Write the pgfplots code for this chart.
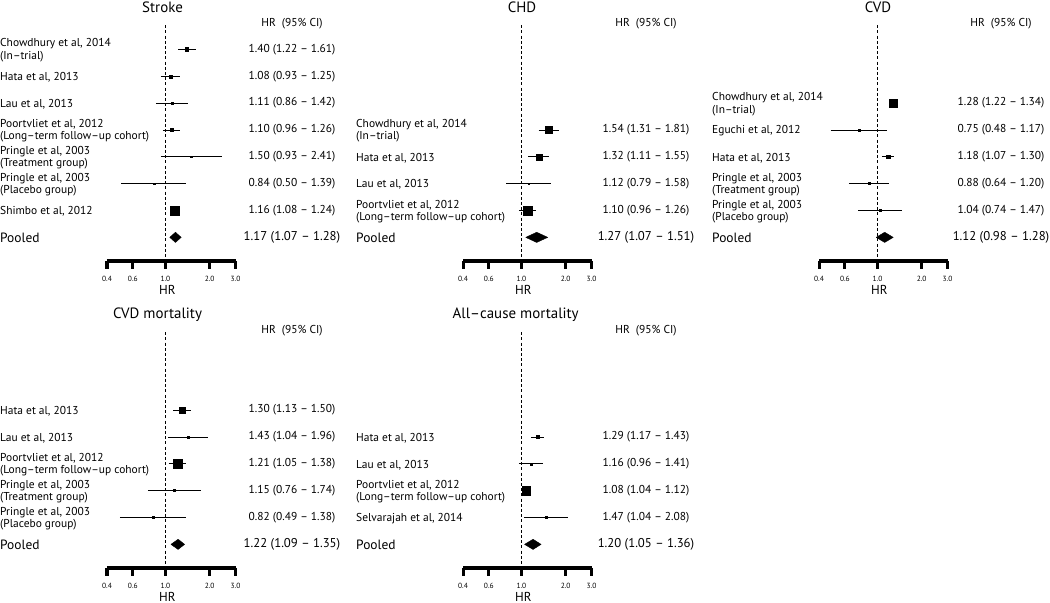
\documentclass[border=0pt]{standalone}
\usepackage{fontspec}
\setmainfont{PT Sans}
\usepackage{pgfplots}
\pgfplotsset{compat=1.18}
\usepackage{pgfplotstable}

% r = row (0 = top), hr, lower, upper, s = half size of box (bp)
\pgfplotstableread{
r hr lo hi s
0 1.40 1.22 1.61 1.7
1 1.08 0.93 1.25 1.5
2 1.11 0.86 1.42 1.0
3 1.10 0.96 1.26 1.5
4 1.50 0.93 2.41 0.8
5 0.84 0.50 1.39 0.8
6 1.16 1.08 1.24 4.6
}\tStroke
\pgfplotstableread{
r hr lo hi s
3 1.54 1.31 1.81 3.3
4 1.32 1.11 1.55 3.0
5 1.12 0.79 1.58 0.8
6 1.10 0.96 1.26 4.3
}\tCHD
\pgfplotstableread{
r hr lo hi s
2 1.28 1.22 1.34 4.3
3 0.75 0.48 1.17 0.8
4 1.18 1.07 1.30 1.7
5 0.88 0.64 1.20 1.0
6 1.04 0.74 1.47 1.0
}\tCVD
\pgfplotstableread{
r hr lo hi s
2 1.30 1.13 1.50 3.3
3 1.43 1.04 1.96 1.2
4 1.21 1.05 1.38 4.3
5 1.15 0.76 1.74 1.0
6 0.82 0.49 1.38 1.0
}\tCVDm
\pgfplotstableread{
r hr lo hi s
3 1.29 1.17 1.43 1.5
4 1.16 0.96 1.41 1.0
5 1.08 1.04 1.12 4.3
6 1.47 1.04 2.08 1.0
}\tAll

\newcommand\lf{\fontsize{11.5}{12.5}\selectfont}
\newcommand\pf{\fontsize{13.5}{14}\selectfont}
\newcommand\pvf{\fontsize{12.8}{13}\selectfont}
\newcommand\tf{\fontsize{15}{16}\selectfont}
\newcommand\tkf{\fontsize{7.5}{8}\selectfont}

\newcommand\lab[2]{\node[anchor=west,align=left,font=\lf,xshift=-107bp,yshift=-1bp,inner sep=0pt] at (axis cs:0.4,-#1) {#2};}
\newcommand\val[2]{\node[font=\lf,xshift=\vx,inner sep=0pt] at (axis cs:0.4,-#1) {#2};}
\newcommand\plab{\node[anchor=west,font=\pf,xshift=-107bp,inner sep=0pt] at (axis cs:0.4,-7) {Pooled};}
\newcommand\pval[1]{\node[font=\pvf,xshift=\vx,inner sep=0pt] at (axis cs:0.4,-7) {#1};}
\newcommand\hdr{\node[font=\lf,xshift=\vx,inner sep=0pt] at (axis cs:0.4,0.97) {HR\ \ (95\% CI)};}
\newcommand\ttl[2]{\node[font=\tf,xshift=#1,inner sep=0pt] at (axis cs:0.4,1.56) {#2};}
\newcommand\hrlab{\node[font=\fontsize{13}{13}\selectfont,yshift=-28.5bp,inner sep=0pt] at (axis cs:1.03,-7.88) {HR};}
% bold HR axis: line and ticks drawn as plots
\newcommand\hraxis{%
\addplot[black, line width=3.2bp, mark=none] coordinates {(0.4,-7.88) (3,-7.88)};
\addplot[black, line width=3bp, mark=none, unbounded coords=jump] coordinates {
 (0.4,-7.88) (0.4,-8.18) (nan,nan) (0.6,-7.88) (0.6,-8.18) (nan,nan)
 (1,-7.88) (1,-8.18) (nan,nan) (2,-7.88) (2,-8.18) (nan,nan) (3,-7.88) (3,-8.18)};
}

\pgfplotsset{
studyboxes/.style={scatter, only marks, mark=square*,
  scatter/use mapped color={draw=black,fill=black},
  visualization depends on={\thisrow{s}\as\msz},
  scatter/@pre marker code/.append style={/tikz/mark size=\msz}},
cisegs/.style={black, line width=0.75bp, unbounded coords=jump, mark=none},
refline/.style={black, line width=0.85bp, dash pattern=on 3bp off 2.2bp, mark=none},
pooleddia/.style={fill=black, draw=black, line width=0.4bp, mark=none}
}

\begin{document}
\begin{tikzpicture}[x=1bp,y=1bp]
\useasboundingbox (0,0) rectangle (1050,603);

% ---------------- Stroke
\def\vx{185bp}
\begin{axis}[xmode=log, xmin=0.4, xmax=3, ymin=-7.88, ymax=0.9,
  scale only axis, width=128.5bp, height=235.8bp,
  anchor=south west, at={(107bp,342bp)}, clip=false,
  axis x line=bottom, axis y line=none,
  axis line style={draw=none},
  xtick={0.4,0.6,1,2,3}, xticklabels={0.4,0.6,1.0,2.0,3.0},
  minor xtick={}, tick align=outside, major tick length=8bp,
  every tick/.style={draw=none},
  xticklabel style={font=\tkf, yshift=-4bp}]
\addplot[refline] coordinates {(1,0.9) (1,-7.88)};
\hraxis
\addplot[cisegs] coordinates {(1.22,0) (1.61,0) (nan,nan) (0.93,-1) (1.25,-1) (nan,nan)
 (0.86,-2) (1.42,-2) (nan,nan) (0.96,-3) (1.26,-3) (nan,nan) (0.93,-4) (2.41,-4) (nan,nan)
 (0.50,-5) (1.39,-5) (nan,nan) (1.08,-6) (1.24,-6)};
\addplot[studyboxes] table[x=hr, y expr=-\thisrow{r}] {\tStroke};
\addplot[pooleddia] coordinates {(1.07,-7) (1.17,-6.81) (1.28,-7) (1.17,-7.19) (1.07,-7)};
\ttl{55.5bp}{Stroke}
\hdr
\lab{0}{Chowdhury et al, 2014\\(In–trial)}
\lab{1}{Hata et al, 2013}
\lab{2}{Lau et al, 2013}
\lab{3}{Poortvliet et al, 2012\\(Long–term follow–up cohort)}
\lab{4}{Pringle et al, 2003\\(Treatment group)}
\lab{5}{Pringle et al, 2003\\(Placebo group)}
\lab{6}{Shimbo et al, 2012}
\plab
\val{0}{1.40 (1.22 – 1.61)}
\val{1}{1.08 (0.93 – 1.25)}
\val{2}{1.11 (0.86 – 1.42)}
\val{3}{1.10 (0.96 – 1.26)}
\val{4}{1.50 (0.93 – 2.41)}
\val{5}{0.84 (0.50 – 1.39)}
\val{6}{1.16 (1.08 – 1.24)}
\pval{1.17 (1.07 – 1.28)}
\hrlab
\end{axis}

% ---------------- CHD
\def\vx{183bp}
\begin{axis}[xmode=log, xmin=0.4, xmax=3, ymin=-7.88, ymax=0.9,
  scale only axis, width=128.5bp, height=235.8bp,
  anchor=south west, at={(463bp,342bp)}, clip=false,
  axis x line=bottom, axis y line=none,
  axis line style={draw=none},
  xtick={0.4,0.6,1,2,3}, xticklabels={0.4,0.6,1.0,2.0,3.0},
  minor xtick={}, tick align=outside, major tick length=8bp,
  every tick/.style={draw=none},
  xticklabel style={font=\tkf, yshift=-4bp}]
\addplot[refline] coordinates {(1,0.9) (1,-7.88)};
\hraxis
\addplot[cisegs] coordinates {(1.31,-3) (1.81,-3) (nan,nan) (1.11,-4) (1.55,-4) (nan,nan)
 (0.79,-5) (1.58,-5) (nan,nan) (0.96,-6) (1.26,-6)};
\addplot[studyboxes] table[x=hr, y expr=-\thisrow{r}] {\tCHD};
\addplot[pooleddia] coordinates {(1.07,-7) (1.27,-6.81) (1.51,-7) (1.27,-7.19) (1.07,-7)};
\ttl{59bp}{CHD}
\hdr
\lab{3}{Chowdhury et al, 2014\\(In–trial)}
\lab{4}{Hata et al, 2013}
\lab{5}{Lau et al, 2013}
\lab{6}{Poortvliet et al, 2012\\(Long–term follow–up cohort)}
\plab
\val{3}{1.54 (1.31 – 1.81)}
\val{4}{1.32 (1.11 – 1.55)}
\val{5}{1.12 (0.79 – 1.58)}
\val{6}{1.10 (0.96 – 1.26)}
\pval{1.27 (1.07 – 1.51)}
\hrlab
\end{axis}

% ---------------- CVD
\def\vx{182bp}
\begin{axis}[xmode=log, xmin=0.4, xmax=3, ymin=-7.88, ymax=0.9,
  scale only axis, width=128.5bp, height=235.8bp,
  anchor=south west, at={(819bp,342bp)}, clip=false,
  axis x line=bottom, axis y line=none,
  axis line style={draw=none},
  xtick={0.4,0.6,1,2,3}, xticklabels={0.4,0.6,1.0,2.0,3.0},
  minor xtick={}, tick align=outside, major tick length=8bp,
  every tick/.style={draw=none},
  xticklabel style={font=\tkf, yshift=-4bp}]
\addplot[refline] coordinates {(1,0.9) (1,-7.88)};
\hraxis
\addplot[cisegs] coordinates {(1.22,-2) (1.34,-2) (nan,nan) (0.48,-3) (1.17,-3) (nan,nan)
 (1.07,-4) (1.30,-4) (nan,nan) (0.64,-5) (1.20,-5) (nan,nan) (0.74,-6) (1.47,-6)};
\addplot[studyboxes] table[x=hr, y expr=-\thisrow{r}] {\tCVD};
\addplot[pooleddia] coordinates {(0.98,-7) (1.12,-6.81) (1.28,-7) (1.12,-7.19) (0.98,-7)};
\ttl{59bp}{CVD}
\hdr
\lab{2}{Chowdhury et al, 2014\\(In–trial)}
\lab{3}{Eguchi et al, 2012}
\lab{4}{Hata et al, 2013}
\lab{5}{Pringle et al, 2003\\(Treatment group)}
\lab{6}{Pringle et al, 2003\\(Placebo group)}
\plab
\val{2}{1.28 (1.22 – 1.34)}
\val{3}{0.75 (0.48 – 1.17)}
\val{4}{1.18 (1.07 – 1.30)}
\val{5}{0.88 (0.64 – 1.20)}
\val{6}{1.04 (0.74 – 1.47)}
\pval{1.12 (0.98 – 1.28)}
\hrlab
\end{axis}

% ---------------- CVD mortality
\def\vx{185bp}
\begin{axis}[xmode=log, xmin=0.4, xmax=3, ymin=-7.88, ymax=0.9,
  scale only axis, width=128.5bp, height=235.8bp,
  anchor=south west, at={(107bp,35bp)}, clip=false,
  axis x line=bottom, axis y line=none,
  axis line style={draw=none},
  xtick={0.4,0.6,1,2,3}, xticklabels={0.4,0.6,1.0,2.0,3.0},
  minor xtick={}, tick align=outside, major tick length=8bp,
  every tick/.style={draw=none},
  xticklabel style={font=\tkf, yshift=-4bp}]
\addplot[refline] coordinates {(1,0.9) (1,-7.88)};
\hraxis
\addplot[cisegs] coordinates {(1.13,-2) (1.50,-2) (nan,nan) (1.04,-3) (1.96,-3) (nan,nan)
 (1.05,-4) (1.38,-4) (nan,nan) (0.76,-5) (1.74,-5) (nan,nan) (0.49,-6) (1.38,-6)};
\addplot[studyboxes] table[x=hr, y expr=-\thisrow{r}] {\tCVDm};
\addplot[pooleddia] coordinates {(1.09,-7) (1.22,-6.81) (1.35,-7) (1.22,-7.19) (1.09,-7)};
\ttl{50.5bp}{CVD mortality}
\hdr
\lab{2}{Hata et al, 2013}
\lab{3}{Lau et al, 2013}
\lab{4}{Poortvliet et al, 2012\\(Long–term follow–up cohort)}
\lab{5}{Pringle et al, 2003\\(Treatment group)}
\lab{6}{Pringle et al, 2003\\(Placebo group)}
\plab
\val{2}{1.30 (1.13 – 1.50)}
\val{3}{1.43 (1.04 – 1.96)}
\val{4}{1.21 (1.05 – 1.38)}
\val{5}{1.15 (0.76 – 1.74)}
\val{6}{0.82 (0.49 – 1.38)}
\pval{1.22 (1.09 – 1.35)}
\hrlab
\end{axis}

% ---------------- All-cause mortality
\def\vx{183bp}
\begin{axis}[xmode=log, xmin=0.4, xmax=3, ymin=-7.88, ymax=0.9,
  scale only axis, width=128.5bp, height=235.8bp,
  anchor=south west, at={(463bp,35bp)}, clip=false,
  axis x line=bottom, axis y line=none,
  axis line style={draw=none},
  xtick={0.4,0.6,1,2,3}, xticklabels={0.4,0.6,1.0,2.0,3.0},
  minor xtick={}, tick align=outside, major tick length=8bp,
  every tick/.style={draw=none},
  xticklabel style={font=\tkf, yshift=-4bp}]
\addplot[refline] coordinates {(1,0.9) (1,-7.88)};
\hraxis
\addplot[cisegs] coordinates {(1.17,-3) (1.43,-3) (nan,nan) (0.96,-4) (1.41,-4) (nan,nan)
 (1.04,-5) (1.12,-5) (nan,nan) (1.04,-6) (2.08,-6)};
\addplot[studyboxes] table[x=hr, y expr=-\thisrow{r}] {\tAll};
\addplot[pooleddia] coordinates {(1.05,-7) (1.20,-6.81) (1.36,-7) (1.20,-7.19) (1.05,-7)};
\ttl{52.7bp}{All–cause mortality}
\hdr
\lab{3}{Hata et al, 2013}
\lab{4}{Lau et al, 2013}
\lab{5}{Poortvliet et al, 2012\\(Long–term follow–up cohort)}
\lab{6}{Selvarajah et al, 2014}
\plab
\val{3}{1.29 (1.17 – 1.43)}
\val{4}{1.16 (0.96 – 1.41)}
\val{5}{1.08 (1.04 – 1.12)}
\val{6}{1.47 (1.04 – 2.08)}
\pval{1.20 (1.05 – 1.36)}
\hrlab
\end{axis}
\end{tikzpicture}
\end{document}
